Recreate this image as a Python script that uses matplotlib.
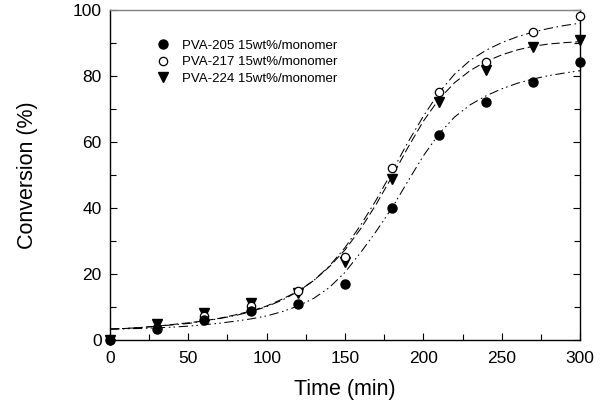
import matplotlib.pyplot as plt
import numpy as np
from matplotlib.ticker import MultipleLocator

plt.rcParams["font.family"] = ["Liberation Sans", "DejaVu Sans"]

# measured points
time_pts = [0, 30, 60, 90, 120, 150, 180, 210, 240, 270, 300]
pva205 = [0, 3.2, 6.0, 8.9, 11.0, 17.0, 40.0, 62.1, 72.2, 78.3, 84.1]
pva217 = [0, 3.6, 7.4, 10.4, 14.8, 25.2, 52.2, 75.2, 84.1, 93.2, 98.3]
pva224 = [0, 4.7, 8.1, 11.1, 14.3, 23.7, 48.9, 72.2, 81.8, 88.9, 90.9]

# fitted curves, every 10 min
time_fit = list(range(0, 301, 10))
fit205 = [3.3, 3.4, 3.5, 3.7, 3.9, 4.2, 4.6, 5.1, 5.7, 6.4, 7.3,
          8.6, 10.3, 12.6, 15.9, 20.5, 26.5, 33.0, 40.0, 48.0, 55.8,
          62.5, 67.6, 71.3, 74.0, 76.1, 77.8, 79.1, 80.1, 80.9, 81.6]
fit217 = [3.3, 3.5, 3.8, 4.2, 4.6, 5.0, 5.7, 6.5, 7.4, 8.6, 10.1,
          12.1, 14.7, 18.0, 22.4, 28.0, 34.8, 42.5, 51.0, 59.8, 67.8,
          75.0, 80.6, 84.8, 87.8, 90.1, 91.9, 93.3, 94.4, 95.3, 96.0]
fit224 = [3.3, 3.5, 3.8, 4.2, 4.7, 5.2, 5.8, 6.6, 7.6, 8.8, 10.3,
          12.4, 14.8, 18.0, 22.2, 27.3, 33.7, 41.2, 49.5, 58.2, 66.3,
          73.0, 78.0, 81.7, 84.4, 86.4, 87.9, 89.0, 89.7, 90.1, 90.4]

labels = ["PVA-205 15wt%/monomer", "PVA-217 15wt%/monomer", "PVA-224 15wt%/monomer"]

fig = plt.figure(figsize=(6.09, 4.05), dpi=100)
ax = fig.add_axes([0.1806, 0.1605, 0.7718, 0.8148])

lw = 0.75
ax.plot(time_fit, fit205, color="black", lw=lw, ls=(0, (9, 3.5, 1.5, 3, 1.5, 3.5)), clip_on=False)
ax.plot(time_fit, fit217, color="black", lw=lw, ls=(0, (9, 3.5, 1.5, 3.5)), clip_on=False)
ax.plot(time_fit, fit224, color="black", lw=lw, ls=(0, (8, 3.5)), clip_on=False)

ax.plot(time_pts, pva224, "v", color="black", ms=6.5, ls="none", label=labels[2], clip_on=False, zorder=5)
ax.plot(time_pts, pva217, "o", mfc="white", mec="black", mew=0.9, ms=6, ls="none", label=labels[1], clip_on=False, zorder=5)
ax.plot(time_pts, pva205, "o", color="black", ms=6.5, ls="none", label=labels[0], clip_on=False, zorder=5)

ax.set_xlim(0, 300)
ax.set_ylim(0, 100)
ax.xaxis.set_major_locator(MultipleLocator(50))
ax.xaxis.set_minor_locator(MultipleLocator(25))
ax.yaxis.set_major_locator(MultipleLocator(20))
ax.yaxis.set_minor_locator(MultipleLocator(10))
ax.tick_params(which="both", direction="in", top=False, right=True, labelsize=12.5, width=0.8)
ax.tick_params(which="major", length=5)
ax.tick_params(which="minor", length=4)
ax.tick_params(axis="x", pad=8)
ax.tick_params(axis="y", pad=6)

for side in ["left", "bottom", "right"]:
    ax.spines[side].set_linewidth(1.0)
    ax.spines[side].set_color("black")
ax.spines["top"].set_color("#808080")
ax.spines["top"].set_linewidth(1.0)

ax.set_xlabel("Time (min)", fontsize=15.5, labelpad=9)
ax.set_ylabel("Conversion (%)", fontsize=15.5, labelpad=25)

h, l = ax.get_legend_handles_labels()
order = [l.index(x) for x in labels]
ax.legend([h[i] for i in order], [l[i] for i in order], loc="upper left",
          bbox_to_anchor=(0.085, 0.93), frameon=False, fontsize=9.5,
          handlelength=1.0, handletextpad=0.9, labelspacing=0.32, borderpad=0)

fig.savefig("out.png", dpi=100)
